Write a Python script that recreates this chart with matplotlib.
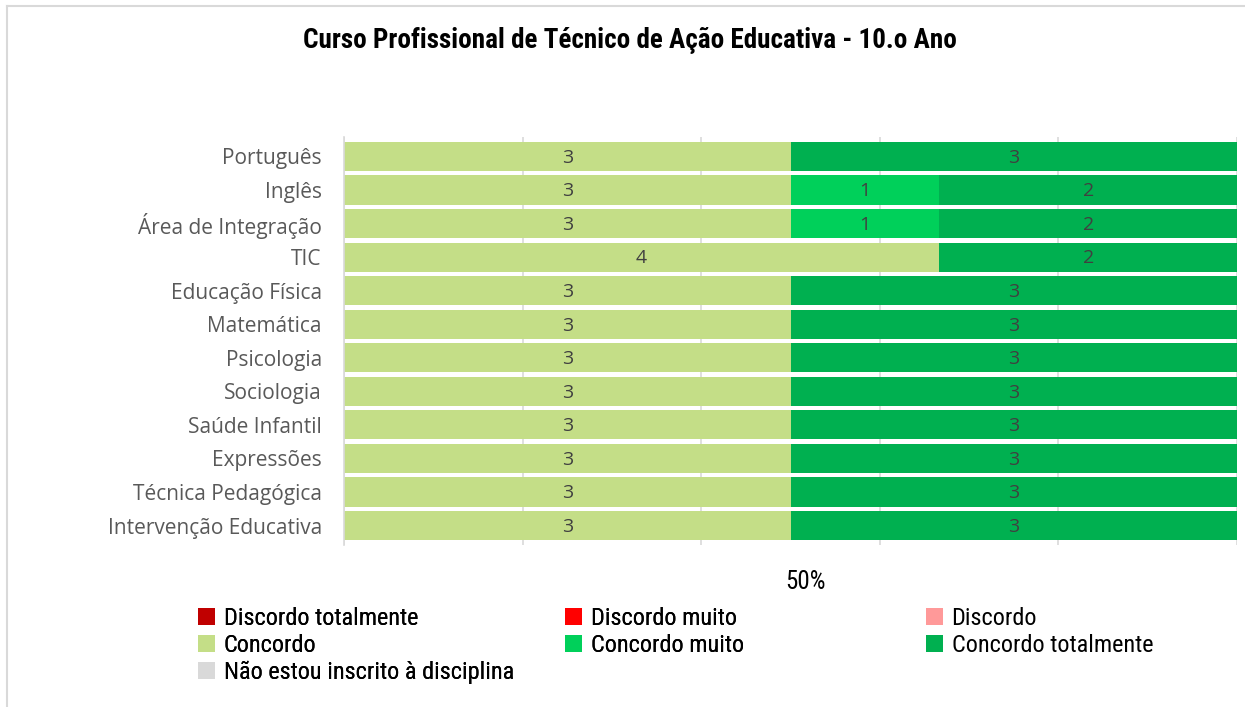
import matplotlib
matplotlib.use("Agg")
import matplotlib.pyplot as plt
from matplotlib import font_manager
from matplotlib.patches import Patch
import matplotlib.transforms as mtransforms
import numpy as np

categories = ["Português", "Inglês", "Área de Integração", "TIC", "Educação Física",
              "Matemática", "Psicologia", "Sociologia", "Saúde Infantil", "Expressões",
              "Técnica Pedagógica", "Intervenção Educativa"]
series_names = ["Discordo totalmente", "Discordo muito", "Discordo", "Concordo",
                "Concordo muito", "Concordo totalmente", "Não estou inscrito à disciplina"]
discordo_totalmente = [0, 0, 0, 0, 0, 0, 0, 0, 0, 0, 0, 0]
discordo_muito      = [0, 0, 0, 0, 0, 0, 0, 0, 0, 0, 0, 0]
discordo            = [0, 0, 0, 0, 0, 0, 0, 0, 0, 0, 0, 0]
concordo            = [3, 3, 3, 4, 3, 3, 3, 3, 3, 3, 3, 3]
concordo_muito      = [0, 1, 1, 0, 0, 0, 0, 0, 0, 0, 0, 0]
concordo_totalmente = [3, 2, 2, 2, 3, 3, 3, 3, 3, 3, 3, 3]
nao_inscrito        = [0, 0, 0, 0, 0, 0, 0, 0, 0, 0, 0, 0]
colors = ["#C00000", "#FF0000", "#FF9999", "#C4DE87", "#00D05A", "#00B050", "#D9D9D9"]
title = "Curso Profissional de Técnico de Ação Educativa - 10.o Ano"


def pick_font(cands):
    for c in cands:
        try:
            font_manager.findfont(c, fallback_to_default=False)
            return c
        except Exception:
            continue
    return "DejaVu Sans"


narrow = pick_font(["Roboto Condensed", "Liberation Sans Narrow", "DejaVu Sans Condensed",
                    "Liberation Sans"])
body = pick_font(["Open Sans", "Noto Sans", "DejaVu Sans"])

data = np.array([discordo_totalmente, discordo_muito, discordo, concordo,
                 concordo_muito, concordo_totalmente, nao_inscrito], dtype=float)
totals = data.sum(axis=0)
frac = data / totals

fig = plt.figure(figsize=(12.45, 7.07), dpi=100)
W, H = 1245, 707
ax = fig.add_axes([344 / W, 1 - 545 / H, (1237 - 344) / W, (545 - 137) / H])

y = np.arange(len(categories))
left = np.zeros(len(categories))
for i, name in enumerate(series_names):
    ax.barh(y, frac[i], left=left, height=0.87, color=colors[i], label=name, zorder=2)
    for j in range(len(categories)):
        if data[i, j] > 0:
            ax.text(left[j] + frac[i, j] / 2, y[j] + 0.04, f"{int(data[i, j])}", ha="center",
                    va="center", fontsize=14, color="#404040", family=body, zorder=3)
    left += frac[i]

ax.set_ylim(len(categories) - 0.5 + 0.08, -0.5 - 0.08)
ax.set_xlim(0, 1)
ax.set_yticks(y)
ax.set_yticklabels(categories, fontsize=15, color="#595959", family=body)
ax.set_xticks([0, 0.2, 0.4, 0.6, 0.8, 1.0])
ax.set_xticklabels(["", "", "", "", "", ""])
ax.grid(axis="x", color="#D9D9D9", linewidth=1.2, zorder=0)
ax.tick_params(axis="y", length=0, pad=16)
ax.tick_params(axis="x", length=0)
for s in ["top", "right", "bottom"]:
    ax.spines[s].set_visible(False)
ax.spines["left"].set_color("#D9D9D9")
ax.spines["left"].set_linewidth(1.2)

# single "50%" tick label
off = mtransforms.offset_copy(ax.get_xaxis_transform(), fig=fig, x=15, y=0, units="dots")
ax.text(0.5, -0.09, "50%", transform=off, ha="center", va="center",
        fontsize=18, family=narrow, color="black")

fig.text(630 / W, 1 - 41 / H, title, ha="center", va="center", fontsize=19.5,
         fontweight="bold", family=narrow, color="black")

handles = [Patch(facecolor=c, edgecolor="none") for c in colors]
col_groups = [[0, 3, 6], [1, 4], [2, 5]]
col_x = [198, 565, 926]
for gi, (grp, cx) in enumerate(zip(col_groups, col_x)):
    leg = fig.legend([handles[k] for k in grp], [series_names[k] for k in grp],
                     ncol=1, loc="upper left", bbox_to_anchor=(cx / W, 1 - 607 / H),
                     frameon=False, prop={"family": narrow, "size": 17.5},
                     handlelength=0.7, handleheight=0.7, handletextpad=0.35,
                     labelspacing=0.16, borderpad=0, borderaxespad=0)
    if gi < len(col_groups) - 1:
        fig.add_artist(leg)

# outer frame (left and top)
fig.add_artist(plt.Line2D([7 / W, 7 / W], [0, 1 - 6 / H], color="#D9D9D9", lw=1.5,
                          transform=fig.transFigure))
fig.add_artist(plt.Line2D([7 / W, 1], [1 - 6 / H, 1 - 6 / H], color="#D9D9D9", lw=1.5,
                          transform=fig.transFigure))

fig.savefig("out.png", dpi=100, facecolor="white")
